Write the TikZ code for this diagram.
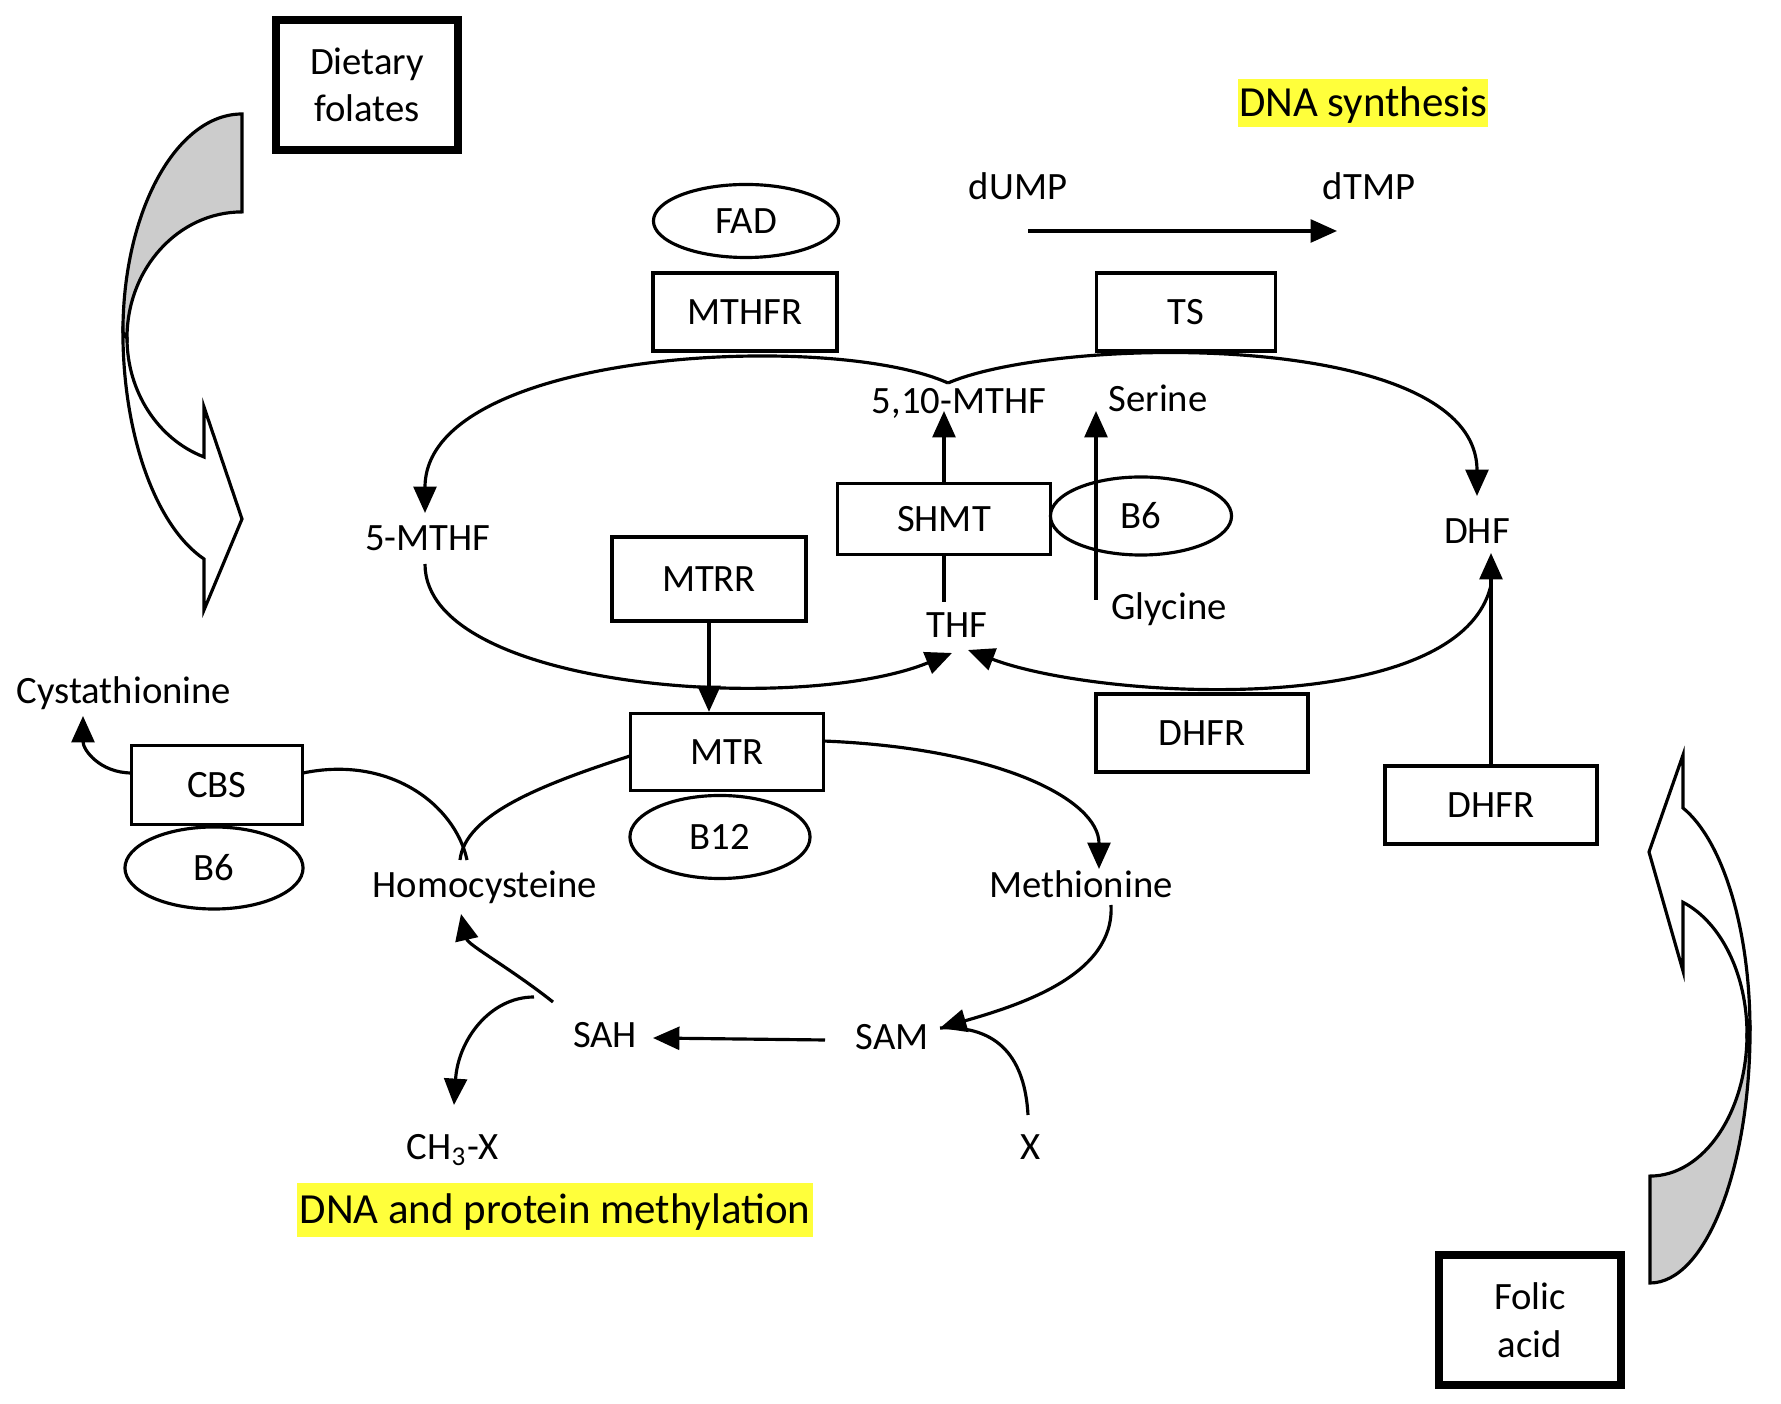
\documentclass[tikz,border=0pt]{standalone}
\usepackage{fontspec}
\setmainfont{Carlito}
\usetikzlibrary{arrows.meta,shapes.geometric}

\definecolor{hilite}{RGB}{255,255,59}
\definecolor{shade}{RGB}{204,204,204}

\tikzset{
  enzyme/.style={draw,line width=0.9pt,inner sep=0pt},
  cofactor/.style={draw,ellipse,line width=0.9pt,inner sep=0pt},
  source/.style={draw,line width=2.5pt,inner sep=0pt,align=center,minimum width=1.82cm,minimum height=1.3cm},
  chem/.style={inner sep=0pt,text height=7pt,text depth=0pt},
  hl/.style={fill=hilite,inner sep=0pt,text height=7.9pt,text depth=0pt,font=\fontsize{12.2pt}{14pt}\selectfont},
  flow/.style={line width=0.9pt,-{Triangle[length=7.5pt,width=6.5pt]}},
  link/.style={line width=0.9pt},
  bigarrow/.style={line width=0.9pt,line join=miter},
}

\begin{document}
\begin{tikzpicture}[x=0.01cm,y=0.01cm,font=\fontsize{11pt}{13.5pt}\selectfont]
  \useasboundingbox (0,0) rectangle (1781,-1404);

  % folate sources
  \node[source] (diet) at (367,-85) {Dietary\\folates};
  \node[source] (folic) at (1530,-1320) {Folic\\acid};

  % curved block arrows
  \draw[bigarrow,fill=white] (127,-338) arc[start angle=180,end angle=250.7,x radius=1.15cm,y radius=1.26cm]
    -- (204,-407) -- (242,-519) -- (204,-610) -- (204,-559)
    arc[start angle=251.4,end angle=180,x radius=1.19cm,y radius=2.40cm] -- cycle;
  \draw[bigarrow,fill=shade] (242,-114) arc[start angle=90,end angle=180,x radius=1.19cm,y radius=2.18cm]
    -- (127,-338) arc[start angle=180,end angle=90,x radius=1.15cm,y radius=1.26cm] -- cycle;
  \draw[bigarrow,fill=white] (1747,-1034) arc[start angle=0,end angle=70.1,x radius=0.97cm,y radius=1.40cm]
    -- (1683,-971) -- (1649,-852) -- (1683,-755) -- (1683,-808)
    arc[start angle=70.7,end angle=0,x radius=1.00cm,y radius=2.35cm] -- cycle;
  \draw[bigarrow,fill=shade] (1650,-1283) arc[start angle=270,end angle=360,x radius=1.00cm,y radius=2.53cm]
    -- (1747,-1034) arc[start angle=0,end angle=-90,x radius=0.97cm,y radius=1.42cm] -- cycle;

  \node[hl,minimum width=2.5cm,minimum height=0.47cm] (dnasyn) at (1363,-103) {DNA synthesis};
  \node[hl,minimum width=5.15cm,minimum height=0.53cm] (methyl) at (555,-1210) {DNA and protein methylation};

  % enzymes and cofactors
  \node[cofactor,minimum width=1.85cm,minimum height=0.73cm] (fad) at (746,-221) {FAD};
  \node[enzyme,minimum width=1.84cm,minimum height=0.78cm] (mthfr) at (745,-312) {MTHFR};
  \node[enzyme,minimum width=1.79cm,minimum height=0.78cm] (ts) at (1186,-312) {TS};
  \node[enzyme,minimum width=2.13cm,minimum height=0.71cm] (shmt) at (944,-519) {SHMT};
  \node[cofactor,minimum width=1.81cm,minimum height=0.78cm] (bsixa) at (1141,-516) {B6};
  \node[enzyme,minimum width=1.94cm,minimum height=0.84cm] (mtrr) at (709,-579) {MTRR};
  \node[enzyme,minimum width=1.93cm,minimum height=0.77cm] (mtr) at (727,-752) {MTR};
  \node[cofactor,minimum width=1.80cm,minimum height=0.83cm] (btwelve) at (720,-837) {B12};
  \node[enzyme,minimum width=2.12cm,minimum height=0.78cm] (dhfra) at (1202,-733) {DHFR};
  \node[enzyme,minimum width=2.12cm,minimum height=0.78cm] (dhfrb) at (1491,-805) {DHFR};
  \node[enzyme,minimum width=1.71cm,minimum height=0.79cm] (cbs) at (217,-785) {CBS};
  \node[cofactor,minimum width=1.78cm,minimum height=0.82cm] (bsixb) at (214,-868) {B6};

  % metabolites
  \node[chem] (dump) at (1018,-187) {dUMP};
  \node[chem] (dtmp) at (1369,-187) {dTMP};
  \node[chem] (mthfb) at (959,-401) {5,10-MTHF};
  \node[chem] (serine) at (1158,-399) {Serine};
  \node[chem] (mthfa) at (428,-538) {5-MTHF};
  \node[chem] (dhf) at (1477,-531) {DHF};
  \node[chem] (glycine) at (1169,-607) {Glycine};
  \node[chem] (thf) at (957,-625) {THF};
  \node[chem] (cysta) at (124,-691) {Cystathionine};
  \node[chem] (hcy) at (485,-885) {Homocysteine};
  \node[chem] (met) at (1081,-885) {Methionine};
  \node[chem] (sam) at (892,-1037) {SAM};
  \node[chem] (sah) at (605,-1035) {SAH};
  \node[chem] (chx) at (453,-1147) {CH\textsubscript{3}-X};
  \node[chem] (xx) at (1031,-1147) {X};

  % connector ends
  \coordinate (cusp) at (948,-383);
  \coordinate (mthfa-in) at (425,-513);
  \coordinate (mthfa-out) at (425,-564);
  \coordinate (dhf-in) at (1477,-496);
  \coordinate (dhf-up) at (1491,-553);
  \coordinate (dhf-out) at (1491,-585);
  \coordinate (thf-ina) at (952,-653);
  \coordinate (thf-inb) at (968,-650);
  \coordinate (thf-out) at (944,-602);
  \coordinate (mthfb-in) at (944,-411);
  \coordinate (gly-out) at (1096,-600);
  \coordinate (ser-in) at (1096,-411);
  \coordinate (dump-out) at (1028,-231);
  \coordinate (dtmp-in) at (1337,-231);
  \coordinate (mtr-r) at (823,-741);
  \coordinate (mtr-l) at (630,-756);
  \coordinate (cbs-r) at (303,-773);
  \coordinate (cbs-l) at (132,-773);
  \coordinate (hcy-top) at (460,-860);
  \coordinate (hcy-in) at (461,-914);
  \coordinate (cysta-in) at (83,-716);
  \coordinate (met-in) at (1099,-869);
  \coordinate (met-out) at (1111,-905);
  \coordinate (sam-in) at (940,-1028);
  \coordinate (sam-out) at (825,-1040);
  \coordinate (x-out) at (1028,-1115);
  \coordinate (sah-in) at (653,-1038);
  \coordinate (sah-a) at (553,-1002);
  \coordinate (sah-b) at (534,-997);
  \coordinate (chx-in) at (454,-1105);

  % folate cycle
  \draw[flow] (cusp) .. controls (830,-330) and (425,-350) .. (mthfa-in);
  \draw[flow] (cusp) .. controls (1060,-335) and (1477,-330) .. (dhf-in);
  \draw[flow] (mthfa-out) .. controls (425,-690) and (800,-715) .. (thf-ina);
  \draw[flow] (dhf-out) .. controls (1460,-720) and (1100,-700) .. (thf-inb);
  \draw[link] (thf-out) -- (shmt.south);
  \draw[flow] (shmt.north) -- (mthfb-in);
  \draw[flow] (gly-out) -- (ser-in);
  \draw[flow] (dump-out) -- (dtmp-in);
  \draw[flow] (mtrr.south) -- (mtrr.south |- mtr.north);
  \draw[flow] (dhfrb.north) -- (dhf-up);

  % methionine cycle
  \draw[flow] (mtr-r) .. controls (1000,-748) and (1099,-800) .. (met-in);
  \draw[link] (mtr-l) .. controls (540,-785) and (465,-815) .. (hcy-top);
  \draw[link] (cbs-r) .. controls (390,-755) and (455,-805) .. ([xshift=2]hcy-top);
  \draw[flow] (cbs-l) .. controls (100,-773) and (83,-750) .. (cysta-in);
  \draw[flow] (met-out) .. controls (1115,-975) and (1020,-1005) .. (sam-in);
  \draw[link] (x-out) .. controls (1025,-1060) and (1000,-1025) .. (sam-in);
  \draw[flow] (sam-out) -- (sah-in);
  \draw[flow] (sah-a) .. controls (510,-968) and (468,-945) .. (hcy-in);
  \draw[flow] (sah-b) .. controls (490,-997) and (458,-1040) .. (chx-in);
\end{tikzpicture}
\end{document}
